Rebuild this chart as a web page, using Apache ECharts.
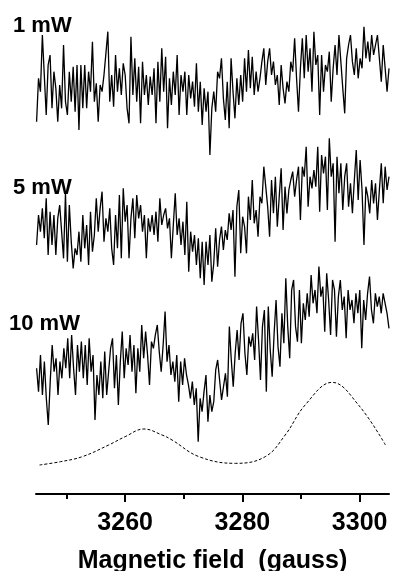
<!DOCTYPE html>
<html><head><meta charset="utf-8">
<script src="https://cdn.jsdelivr.net/npm/echarts@6/dist/echarts.min.js"></script>
<style>html,body{margin:0;padding:0;background:#fff}#c{width:396px;height:571px}</style>
</head><body><div id="c"></div>
<script>
// ---- data ----
const fieldMin = 3244.8, fieldMax = 3305;
const majorTicks = [3260, 3280, 3300];
const minorTicks = [3250, 3270, 3290];
const axisTitle = 'Magnetic field  (gauss)';
const traceNames = ['1 mW', '5 mW', '10 mW'];
// spectra are sampled uniformly between these fields
const traceFieldStart = 3244.9, traceFieldEnd = 3305.0;
// EPR signal (arbitrary units)
const trace1mW = [
 10,140,100,270,150,30,180,210,50,160, 110,10,120,50,240,70,30,160,70,175,
 40,180,-15,180,50,180,50,160,100,250, 70,125,10,120,100,150,215,280,70,150,
 55,210,100,170,90,185,150,50,5,265, 90,200,70,175,5,190,90,150,60,145,
 90,170,5,190,70,230,100,205,-10,140, 60,160,90,210,30,150,100,160,30,150,
 80,130,55,185,40,130,0,110,40,100, -90,50,
 100,40,160,140,200,80,15,130,-10,200, 100,20,140,60,150,70,200,100,225,110,
 205,90,160,100,140,190,230,120,190,230, 150,190,120,150,60,180,110,65,130,100,
 190,160,260,140,40,170,260,140,270,160, 230,100,280,180,210,30,210,100,180,160,
 220,70,170,240,150,270,190,110,35,200, 240,270,190,150,230,140,200,170,295,200,
 250,190,270,210,240,270,200,130,240,170, 100,170
];
const trace5mW = [
 60,150,100,170,80,200,30,160,60,150, 30,140,180,100,20,215,10,180,70,-10,
 50,30,100,10,150,50,120,0,160,40, 90,200,100,170,220,70,140,100,170,50,
 0,150,50,210,20,230,130,180,20,140, 200,80,210,140,180,100,150,20,140,100,
 150,90,160,70,200,120,150,170,110,140, 20,120,215,90,140,60,130,30,190,-20,
 100,40,90,0,80,-40,70,-60,70,0, 90,-50,
 5,110,-5,75,115,45,105,75,155,105, 165,-35,175,225,35,145,115,35,205,135,
 255,125,165,85,205,185,295,295,175,85, 255,155,265,115,205,290,105,235,155,225,
 255,280,205,255,295,135,295,265,355,175, 265,230,285,235,355,160,330,275,325,165,
 380,265,305,70,325,215,305,165,265,305, 175,245,155,255,345,195,315,225,60,235,
 205,155,255,185,245,135,225,305,185,295, 225,265
];
const trace10mW = [
 180,110,220,100,200,90,10,140,250,170, 210,100,200,150,240,180,270,150,280,180,
 100,250,170,260,150,250,130,270,170,220, 25,160,100,200,90,230,100,170,240,270,
 120,220,70,200,290,150,240,190,280,170, 250,105,240,170,310,210,290,220,130,260,
 240,280,310,230,170,250,350,200,250,160, 200,140,220,80,200,130,210,160,130,90,
 140,70,120,-40,90,50,110,160,20,100, 50,80,
 175,205,145,85,125,165,95,305,205,125, 225,295,205,315,345,225,160,275,245,285,
 205,365,265,145,305,355,110,365,235,155, 285,385,245,185,345,255,450,305,210,415,
 445,305,260,415,255,375,325,405,335,460, 375,415,345,485,395,425,290,465,385,280,
 445,415,275,395,445,355,395,270,415,355, 385,315,405,345,415,240,385,325,405,455,
 355,315,405,365,395,345,405,375,345,300
];
// simulated spectrum (dashed)
const simField  = [3245.4, 3249.0, 3252.7, 3257.2, 3260.0, 3263.2, 3266.3, 3268.0, 3272.6, 3278.8, 3283.9, 3287.3, 3290.7, 3295.3, 3299.8, 3304.4];
const simSignal = [15, 25, 40, 75, 100, 123, 105, 90, 40, 20, 40, 105, 195, 263, 195, 75];

// ---- layout ----
const W = 396, H = 571;
const L = { left: 36, right: 7, top: 0, bottom: 77, unitsPerPx: 3,
            baselinePx: [125, 265, 428.3, 470] };
const gridH = H - L.top - L.bottom;
function yRange(b) {
  const min = L.unitsPerPx * (b - L.top - gridH);
  return { min: min, max: min + L.unitsPerPx * gridH };
}
function sampled(vals) {
  const n = vals.length, step = (traceFieldEnd - traceFieldStart) / (n - 1);
  return vals.map((v, i) => [traceFieldStart + i * step, v]);
}
const FONT = '"Liberation Sans", Arial, sans-serif';
const traces = [trace1mW, trace5mW, trace10mW];

const yAxes = L.baselinePx.map(b => Object.assign({ type: 'value', show: false, gridIndex: 0 }, yRange(b)));
yAxes.push({ type: 'value', show: false, gridIndex: 1, min: 0, max: 1 });

const series = traces.map((t, i) => ({
  type: 'line', name: traceNames[i], xAxisIndex: 0, yAxisIndex: i,
  data: sampled(t), showSymbol: false, symbol: 'none', silent: true,
  lineStyle: { color: '#000', width: 1.3 }, clip: false
}));
series.push({
  type: 'line', name: 'simulation', xAxisIndex: 0, yAxisIndex: 3,
  data: simField.map((f, i) => [f, simSignal[i]]), showSymbol: false, symbol: 'none',
  smooth: 0.4, silent: true, lineStyle: { color: '#000', width: 1, type: [3, 2] }
});

const labelTops = [15, 177, 313];
const labelLefts = [13, 13, 9];

const gridBase = { left: L.left, right: L.right, top: L.top, bottom: L.bottom,
                   containLabel: false, outerBoundsMode: 'none' };

const chart = echarts.init(document.getElementById('c'), null, { renderer: 'canvas' });
chart.setOption({
  animation: false,
  backgroundColor: '#fff',
  grid: [ Object.assign({}, gridBase), Object.assign({}, gridBase) ],
  xAxis: [
    { type: 'value', gridIndex: 0, min: fieldMin, max: fieldMax, position: 'bottom',
      axisLine: { show: true, onZero: false, lineStyle: { color: '#000', width: 2 } },
      axisTick: { show: true, customValues: majorTicks, length: 8, lineStyle: { color: '#000', width: 2 } },
      axisLabel: { show: true, customValues: majorTicks, margin: 17, color: '#000',
                   fontSize: 25, fontWeight: 'bold', fontFamily: FONT,
                   formatter: v => String(v) },
      splitLine: { show: false },
      name: axisTitle, nameLocation: 'middle', nameGap: 55,
      nameTextStyle: { color: '#000', fontSize: 25, fontWeight: 'bold', fontFamily: FONT } },
    { type: 'value', gridIndex: 1, min: fieldMin, max: fieldMax, position: 'bottom',
      axisLine: { show: false, onZero: false },
      axisTick: { show: true, customValues: minorTicks, length: 5, lineStyle: { color: '#000', width: 2 } },
      axisLabel: { show: false }, splitLine: { show: false } }
  ],
  yAxis: yAxes,
  series: series,
  graphic: traceNames.map((t, i) => ({
    type: 'text', left: labelLefts[i], top: labelTops[i], silent: true,
    style: { text: t, fill: '#000', font: 'bold 22px ' + FONT }
  }))
});
</script></body></html>
